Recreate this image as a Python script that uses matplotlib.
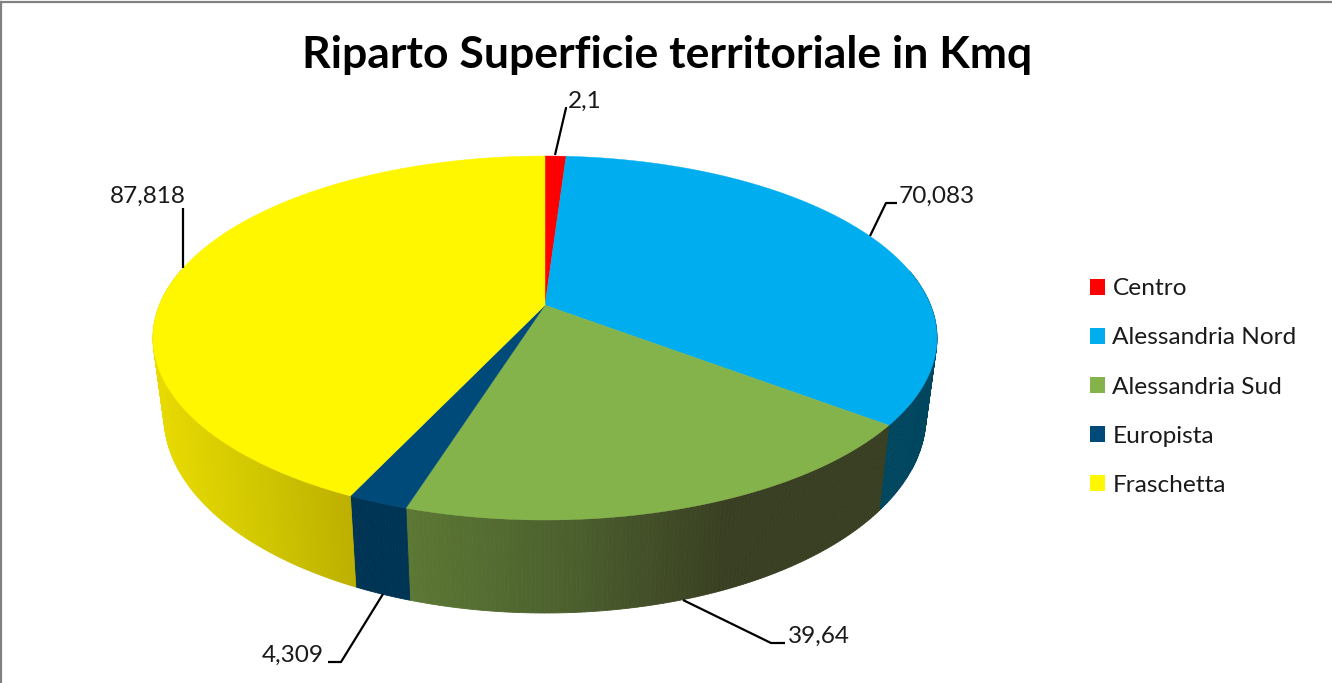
import numpy as np
import matplotlib
matplotlib.use("Agg")
import matplotlib.pyplot as plt
from matplotlib.colors import LinearSegmentedColormap
from matplotlib.patches import Patch, Polygon

title = "Riparto Superficie territoriale in Kmq"
zones = ["Centro", "Alessandria Nord", "Alessandria Sud", "Europista", "Fraschetta"]
areas = [2.1, 70.083, 39.64, 4.309, 87.818]
labels = ["2,1", "70,083", "39,64", "4,309", "87,818"]
colors = ["#ff0000", "#00adef", "#84b24b", "#004a7a", "#fff700"]

# side colours, left to right across the front of the pie
side_ramps = [
    ["#b00000", "#b00000"],
    ["#00465f", "#00465f"],
    ["#5c7834", "#4c602e", "#393f22", "#393f22"],
    ["#003454", "#003454"],
    ["#e8da00", "#d2c800", "#bdb000"],
]

# top ellipse and bottom ellipse, pixels
top = dict(cx=545, cy=338, rx=392, ry=182, k=0.18)
bot = dict(cx=545, cy=416, rx=381, ry=197, k=0.18)


def project(theta, e):
    # theta clockwise from 12 o'clock, the pie centre moved back by k
    s = np.sin(theta)
    c = np.cos(theta)
    d = 1 + e["k"] * c
    x = s * np.sqrt(1 - e["k"] ** 2) / d
    y = (c + e["k"]) / d
    return e["cx"] + e["rx"] * x, e["cy"] - e["ry"] * y


plt.rcParams["font.family"] = ["Lato", "DejaVu Sans"]
fig = plt.figure(figsize=(13.32, 6.83), dpi=100)
ax = fig.add_axes([0, 0, 1, 1])
ax.set_xlim(0, 1332)
ax.set_ylim(683, 0)
ax.axis("off")

edges = np.concatenate([[0], np.cumsum(areas)]) / sum(areas) * 2 * np.pi

# sides first, the top covers the back half
for i in range(len(areas)):
    cmap = LinearSegmentedColormap.from_list("side", side_ramps[i])
    th = np.linspace(edges[i], edges[i + 1], int(areas[i] * 3) + 8)
    front = np.clip(th, np.pi / 2, 3 * np.pi / 2)
    xf, _ = project(front, top)
    lo = xf.min()
    hi = max(xf.max(), lo + 1)
    x0, y0 = project(th, top)
    x1, y1 = project(th, bot)
    for j in range(len(th) - 1):
        if np.pi / 2 - 0.2 > th[j + 1] or th[j] > 3 * np.pi / 2 + 0.2:
            continue
        col = cmap(np.clip(((x0[j] + x0[j + 1]) / 2 - lo) / (hi - lo), 0, 1))
        ax.add_patch(Polygon([(x0[j], y0[j]), (x0[j + 1], y0[j + 1]),
                              (x1[j + 1], y1[j + 1]), (x1[j], y1[j])],
                             facecolor=col, edgecolor=col, lw=0.6))

apex_y = top["cy"] - top["ry"] * top["k"]
for i in range(len(areas)):
    th = np.linspace(edges[i], edges[i + 1], int(areas[i] * 3) + 8)
    x, y = project(th, top)
    pts = [(top["cx"], apex_y)] + list(zip(x, y))
    ax.add_patch(Polygon(pts, facecolor=colors[i], edgecolor=colors[i], lw=0.3))

ax.text(667.5, 68, title, fontsize=32, fontweight="bold", ha="center", va="baseline", color="black")

# data labels with leader lines
leaders = [
    ([555, 566, 567], [155, 108, 108], 568, 108, "left"),
    ([870, 886, 897], [236, 203, 203], 899, 203, "left"),
    ([683, 771, 785], [600, 643, 643], 788, 643, "left"),
    ([383, 341, 328], [594, 662, 662], 324, 662, "right"),
    ([183, 183, 183], [268, 208, 208], 186, 203, "right"),
]
for (lx, ly, tx, ty, ha), lab in zip(leaders, labels):
    ax.plot(lx, ly, color="black", lw=1.6, solid_capstyle="butt")
    ax.text(tx, ty, lab, fontsize=17.6, ha=ha, va="baseline", color="#1a1a1a")

handles = [Patch(facecolor=c, edgecolor="none") for c in colors]
ax.legend(handles, zones, loc="center left", bbox_to_anchor=(1090, 387), bbox_transform=ax.transData,
          frameon=False, fontsize=17.6, handlelength=0.62, handleheight=0.62, handletextpad=0.3,
          labelspacing=1.15, borderpad=0, borderaxespad=0, labelcolor="#1a1a1a")

# chart frame
ax.plot([1, 1], [683, 2], color="#808080", lw=1.6, clip_on=False)
ax.plot([0, 1332], [2, 2], color="#808080", lw=1.6, clip_on=False)

fig.savefig("out.png", dpi=100)
